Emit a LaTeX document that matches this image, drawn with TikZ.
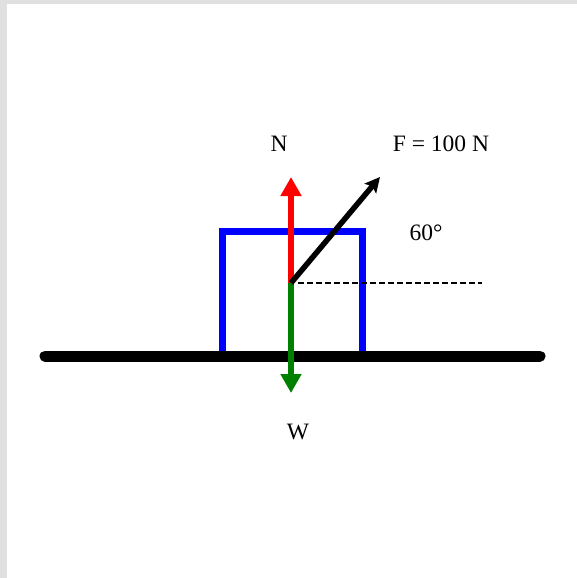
\documentclass[tikz,border=0pt]{standalone}
\usepackage{fontspec}
\setmainfont{Liberation Serif}
\usetikzlibrary{arrows.meta}
\definecolor{framegray}{HTML}{E0E0E0}
\definecolor{fblue}{HTML}{0000FF}
\definecolor{fred}{HTML}{FF0000}
\definecolor{fgreen}{HTML}{008000}
\begin{document}
\begin{tikzpicture}[x=1pt,y=-1pt,
  lbl/.style={inner sep=0pt,font=\fontsize{23.5}{28}\selectfont},
  boxline/.style={draw=fblue,line width=7pt,line cap=rect},
  ground/.style={line width=11pt,line cap=round},
  redarrow/.style={draw=fred,line width=6.5pt,-{Triangle[width=20pt,length=19pt]}},
  greenarrow/.style={draw=fgreen,line width=6.5pt,-{Triangle[width=20pt,length=19pt]}},
  forcearrow/.style={draw=black,line width=5.5pt,-{Stealth[width=15pt,length=15pt,inset=3pt]}},
  refline/.style={draw=black,line width=2pt,dash pattern=on 6pt off 3pt}]
\useasboundingbox (0,0) rectangle (577,578);
\fill[framegray] (0,0) rectangle (577,578);
\fill[white] (7,4) rectangle (577,578);
% coordinates
\coordinate (O) at (291,283);
\coordinate (Ntip) at (291,177);
\coordinate (Wtip) at (291,393);
\coordinate (Ftip) at (380,177);
\coordinate (Dend) at (482,283);
\coordinate (Dstart) at (298,283);
\coordinate (GL) at (45,356);
\coordinate (GR) at (540,356);
\coordinate (B1) at (222,352);
\coordinate (B2) at (222,231);
\coordinate (B3) at (362,231);
\coordinate (B4) at (362,352);
% box
\draw[boxline] (B1) -- (B2) -- (B3) -- (B4);
% ground
\draw[ground] (GL) -- (GR);
% forces
\draw[refline] (Dstart) -- (Dend);
\draw[redarrow] (O) -- (Ntip);
\draw[greenarrow] (O) -- (Wtip);
\draw[forcearrow] (O) -- (Ftip);
% labels
\node[lbl] (lN) at (279,144) {N};
\node[lbl] (lF) at (441,144) {F = 100 N};
\node[lbl] (lA) at (426,233) {60°};
\node[lbl] (lW) at (298,432) {W};
\end{tikzpicture}
\end{document}
